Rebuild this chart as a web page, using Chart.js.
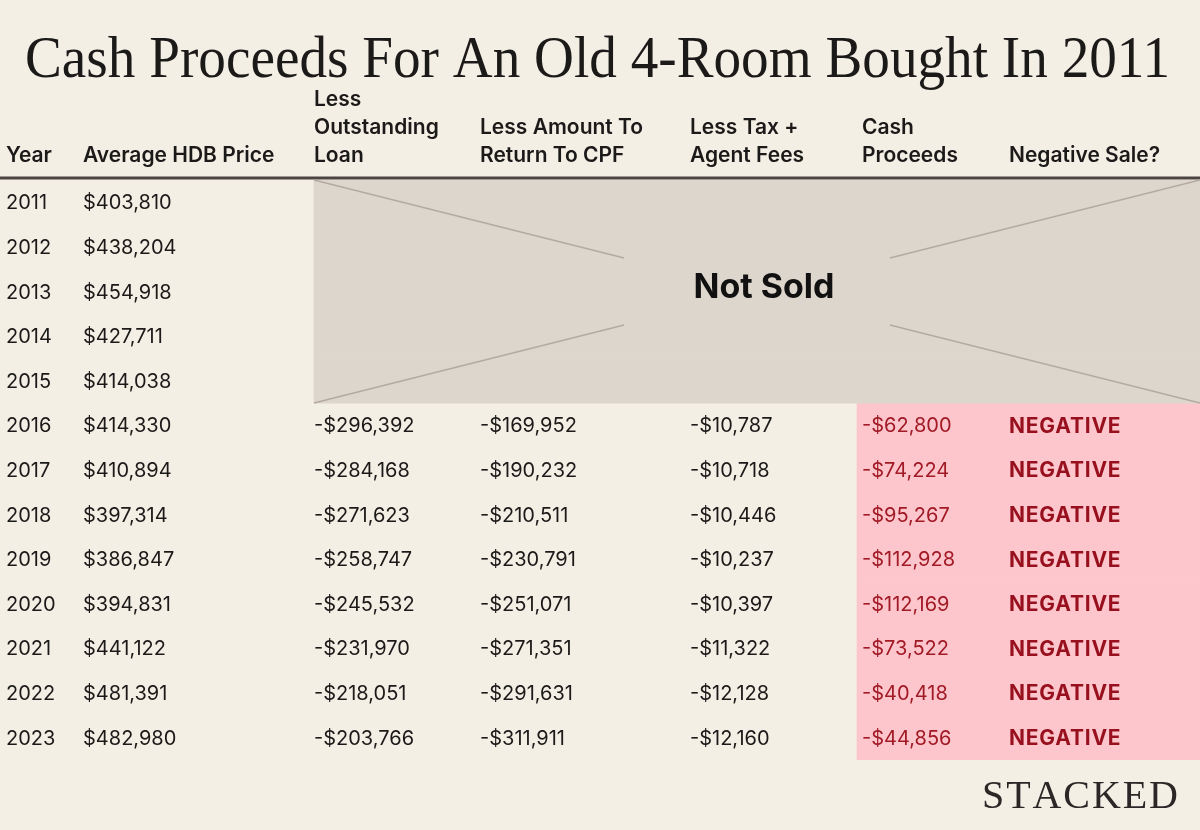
<!DOCTYPE html>
<html>
<head>
<meta charset="utf-8">
<script src="https://cdn.jsdelivr.net/npm/chart.js@4.4.0/dist/chart.umd.min.js"></script>
<style>
  html, body { margin: 0; padding: 0; background: #f4efe5; }
  #wrap { width: 1200px; height: 830px; }
</style>
</head>
<body>
<div id="wrap"><canvas id="table1" width="1200" height="830"></canvas></div>
<script>
// data
const years = ["2011", "2012", "2013", "2014", "2015", "2016", "2017", "2018", "2019", "2020", "2021", "2022", "2023"];
const avgPrice = [403810, 438204, 454918, 427711, 414038, 414330, 410894, 397314, 386847, 394831, 441122, 481391, 482980];
const outstandingLoan = [null, null, null, null, null, -296392, -284168, -271623, -258747, -245532, -231970, -218051, -203766];
const cpfReturn = [null, null, null, null, null, -169952, -190232, -210511, -230791, -251071, -271351, -291631, -311911];
const taxFees = [null, null, null, null, null, -10787, -10718, -10446, -10237, -10397, -11322, -12128, -12160];
const cashProceeds = [null, null, null, null, null, -62800, -74224, -95267, -112928, -112169, -73522, -40418, -44856];
const headers = [
  ["Year"],
  ["Average HDB Price"],
  ["Less", "Outstanding", "Loan"],
  ["Less Amount To", "Return To CPF"],
  ["Less Tax +", "Agent Fees"],
  ["Cash", "Proceeds"],
  ["Negative Sale?"]
];
const title = "Cash Proceeds For An Old 4-Room Bought In 2011";

// layout: left edge of each column on the x scale (0..1200)
const colX = [6, 83, 314, 480, 690, 862, 1009];
const greyFrom = 314, pinkFrom = 857, tableEnd = 1200;

const money = v => (v < 0 ? "-$" : "$") + Math.abs(v).toLocaleString("en-US");
const notSold = years.map((y, i) => cashProceeds[i] === null ? [greyFrom, tableEnd] : null);
const negSale = years.map((y, i) => cashProceeds[i] !== null && cashProceeds[i] < 0 ? [pinkFrom, tableEnd] : null);

const tablePlugin = {
  id: "tableText",
  beforeDraw(chart) {
    const c = chart.ctx;
    c.save();
    c.fillStyle = "#f4efe5";
    c.fillRect(0, 0, chart.width, chart.height);
    c.restore();
  },
  afterDatasetsDraw(chart) {
    const c = chart.ctx;
    const xs = chart.scales.x, ys = chart.scales.y;
    c.save();

    // title, serif, stretched to the measured width
    c.fillStyle = "#1c1a19";
    c.font = "59px 'Liberation Serif'";
    c.textBaseline = "alphabetic";
    c.textAlign = "left";
    const tw = c.measureText(title).width;
    const sx = 1145 / tw;
    c.save();
    c.translate(25, 77);
    c.scale(sx, 1);
    c.fillText(title, 0, 0);
    c.restore();

    // headers, bottom aligned
    c.font = "600 21px Inter";
    c.textBaseline = "middle";
    headers.forEach((lines, j) => {
      lines.forEach((t, k) => {
        const y = 156 - (lines.length - 1 - k) * 28;
        c.fillText(t, xs.getPixelForValue(colX[j]), y);
      });
    });

    // header rule
    c.strokeStyle = "#4b4443";
    c.lineWidth = 3;
    c.beginPath();
    c.moveTo(chart.chartArea.left, chart.chartArea.top - 2);
    c.lineTo(chart.chartArea.right, chart.chartArea.top - 2);
    c.stroke();

    // crossed lines over the "not sold" block
    const meta = chart.getDatasetMeta(0);
    const bars = meta.data.filter((b, i) => notSold[i] !== null);
    if (bars.length) {
      const first = bars[0], last = bars[bars.length - 1];
      const L = first.base, R = first.x;
      const T = first.y - first.height / 2, B = last.y + last.height / 2;
      const f = 0.35;
      c.strokeStyle = "#b3aaa1";
      c.lineWidth = 1.5;
      const seg = (x0, y0, x1, y1) => {
        c.beginPath();
        c.moveTo(x0, y0);
        c.lineTo(x0 + (x1 - x0) * f, y0 + (y1 - y0) * f);
        c.stroke();
      };
      seg(L, T, R, B); seg(L, B, R, T); seg(R, T, L, B); seg(R, B, L, T);
      c.fillStyle = "#111";
      c.font = "700 34px Inter";
      c.textAlign = "center";
      c.fillText("Not Sold", (L + R) / 2 + 7, (T + B) / 2 - 4);
      c.textAlign = "left";
    }

    // rows
    years.forEach((yr, i) => {
      const y = ys.getPixelForValue(i) + 1;
      c.font = "400 20px Inter";
      c.fillStyle = "#1c1a19";
      c.fillText(yr, xs.getPixelForValue(colX[0]), y);
      c.fillText(money(avgPrice[i]), xs.getPixelForValue(colX[1]), y);
      if (outstandingLoan[i] !== null) c.fillText(money(outstandingLoan[i]), xs.getPixelForValue(colX[2]), y);
      if (cpfReturn[i] !== null) c.fillText(money(cpfReturn[i]), xs.getPixelForValue(colX[3]), y);
      if (taxFees[i] !== null) c.fillText(money(taxFees[i]), xs.getPixelForValue(colX[4]), y);
      if (cashProceeds[i] !== null) {
        c.fillStyle = "#a11a26";
        c.fillText(money(cashProceeds[i]), xs.getPixelForValue(colX[5]), y);
        if (cashProceeds[i] < 0) {
          c.font = "700 21px Inter";
          c.letterSpacing = "0.8px";
          c.fillStyle = "#98101e";
          c.fillText("NEGATIVE", xs.getPixelForValue(colX[6]), y);
          c.letterSpacing = "0px";
        }
      }
    });

    // logo
    c.font = "40px 'Liberation Serif'";
    c.fillStyle = "#2a2726";
    c.textBaseline = "alphabetic";
    const word = "STACKED";
    const widths = word.split("").map(ch => c.measureText(ch).width);
    const natural = widths.reduce((a, b) => a + b, 0);
    const gap = (196 - natural) / (word.length - 1);
    let lx = 982;
    word.split("").forEach((ch, k) => {
      c.fillText(ch, lx, 808);
      lx += widths[k] + gap;
    });
    c.restore();
  }
};

new Chart(document.getElementById("table1"), {
  type: "bar",
  data: {
    labels: years,
    datasets: [
      { label: "Not Sold", data: notSold, backgroundColor: "#ddd6cc", grouped: false,
        barPercentage: 1, categoryPercentage: 1, borderWidth: 0 },
      { label: "Negative", data: negSale, backgroundColor: "#fcc6cc", grouped: false,
        barPercentage: 1, categoryPercentage: 1, borderWidth: 0 }
    ]
  },
  options: {
    indexAxis: "y",
    responsive: false,
    animation: false,
    devicePixelRatio: 1,
    layout: { padding: { top: 180, bottom: 70, left: 0, right: 0 } },
    scales: {
      x: { type: "linear", min: 0, max: 1200, display: false },
      y: { type: "category", display: false, offset: true }
    },
    plugins: { legend: { display: false }, tooltip: { enabled: false }, title: { display: false } }
  },
  plugins: [tablePlugin]
});
</script>
</body>
</html>
